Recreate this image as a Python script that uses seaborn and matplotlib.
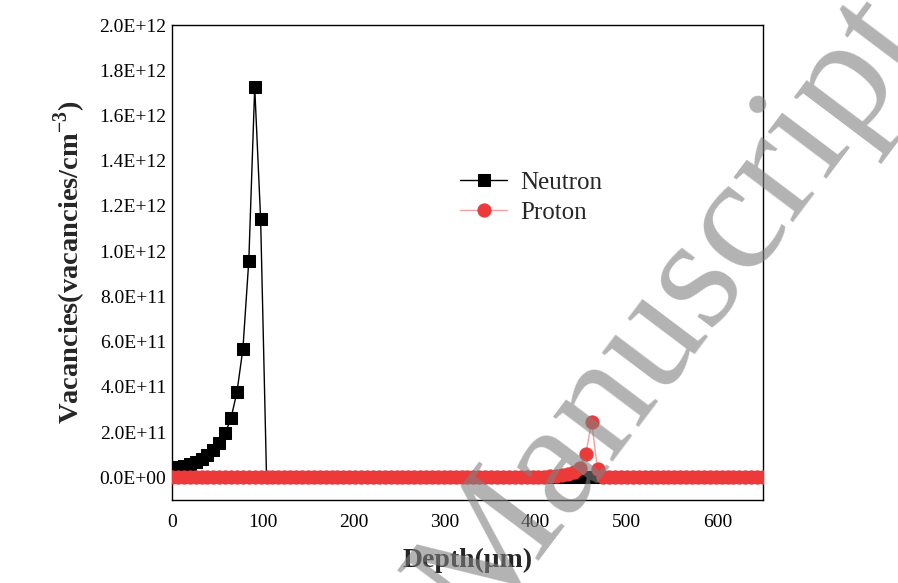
import matplotlib
matplotlib.use("Agg")
import matplotlib.pyplot as plt
from matplotlib.ticker import MultipleLocator, FuncFormatter
import seaborn as sns
import pandas as pd

# ---- data ----
depth = [
    0.0, 6.5, 13.0, 19.5, 26.0, 32.5, 39.0, 45.5, 52.0, 58.5,
    65.0, 71.5, 78.0, 84.5, 91.0, 97.5, 104.0, 110.5, 117.0, 123.5,
    130.0, 136.5, 143.0, 149.5, 156.0, 162.5, 169.0, 175.5, 182.0, 188.5,
    195.0, 201.5, 208.0, 214.5, 221.0, 227.5, 234.0, 240.5, 247.0, 253.5,
    260.0, 266.5, 273.0, 279.5, 286.0, 292.5, 299.0, 305.5, 312.0, 318.5,
    325.0, 331.5, 338.0, 344.5, 351.0, 357.5, 364.0, 370.5, 377.0, 383.5,
    390.0, 396.5, 403.0, 409.5, 416.0, 422.5, 429.0, 435.5, 442.0, 448.5,
    455.0, 461.5, 468.0, 474.5, 481.0, 487.5, 494.0, 500.5, 507.0, 513.5,
    520.0, 526.5, 533.0, 539.5, 546.0, 552.5, 559.0, 565.5, 572.0, 578.5,
    585.0, 591.5, 598.0, 604.5, 611.0, 617.5, 624.0, 630.5, 637.0, 643.5,
    650.0,
]

neutron = [
    0.043e12, 0.047e12, 0.052e12, 0.059e12, 0.068e12, 0.082e12, 0.100e12, 0.122e12, 0.152e12, 0.194e12,
    0.263e12, 0.378e12, 0.568e12, 0.958e12, 1.725e12, 1.143e12, 0.0, 0.0, 0.0, 0.0,
    0.0, 0.0, 0.0, 0.0, 0.0, 0.0, 0.0, 0.0, 0.0, 0.0,
    0.0, 0.0, 0.0, 0.0, 0.0, 0.0, 0.0, 0.0, 0.0, 0.0,
    0.0, 0.0, 0.0, 0.0, 0.0, 0.0, 0.0, 0.0, 0.0, 0.0,
    0.0, 0.0, 0.0, 0.0, 0.0, 0.0, 0.0, 0.0, 0.0, 0.0,
    0.0, 0.0, 0.0, 0.0, 0.0, 0.0, 0.0, 0.0, 0.0, 0.0,
    0.0, 0.0, 0.0, 0.0, 0.0, 0.0, 0.0, 0.0, 0.0, 0.0,
    0.0, 0.0, 0.0, 0.0, 0.0, 0.0, 0.0, 0.0, 0.0, 0.0,
    0.0, 0.0, 0.0, 0.0, 0.0, 0.0, 0.0, 0.0, 0.0, 0.0,
    0.0,
]

proton = [
    0.0, 0.0, 0.0, 0.0, 0.0, 0.0, 0.0, 0.0, 0.0, 0.0,
    0.0, 0.0, 0.0, 0.0, 0.0, 0.0, 0.0, 0.0, 0.0, 0.0,
    0.0, 0.0, 0.0, 0.0, 0.0, 0.0, 0.0, 0.0, 0.0, 0.0,
    0.0, 0.0, 0.0, 0.0, 0.0, 0.0, 0.0, 0.0, 0.0, 0.0,
    0.0, 0.0, 0.0, 0.0, 0.0, 0.0, 0.0, 0.0, 0.0, 0.0,
    0.0, 0.0, 0.0, 0.0, 0.0, 0.0, 0.0, 0.0, 0.0, 0.0,
    0.0, 0.0, 0.0, 0.002e12, 0.004e12, 0.006e12, 0.009e12, 0.014e12, 0.022e12, 0.042e12,
    0.102e12, 0.245e12, 0.035e12, 0.0, 0.0, 0.0, 0.0, 0.0, 0.0, 0.0,
    0.0, 0.0, 0.0, 0.0, 0.0, 0.0, 0.0, 0.0, 0.0, 0.0,
    0.0, 0.0, 0.0, 0.0, 0.0, 0.0, 0.0, 0.0, 0.0, 0.0,
    0.0,
]

series_names = ["Neutron", "Proton"]
x_ticks = [0, 100, 200, 300, 400, 500, 600]

df_n = pd.DataFrame({"Depth": depth, "Vacancies": neutron})
df_p = pd.DataFrame({"Depth": depth, "Vacancies": proton})

# ---- style ----
sns.set_style("white")
plt.rcParams["font.family"] = ["Liberation Serif", "DejaVu Serif"]
plt.rcParams["mathtext.fontset"] = "custom"
plt.rcParams["mathtext.rm"] = "Liberation Serif"
plt.rcParams["mathtext.bf"] = "Liberation Serif:bold"

fig = plt.figure(figsize=(8.98, 5.83), dpi=100)
ax = fig.add_axes([0.1915, 0.1424, 0.6582, 0.8146])

red = "#ec3a3a"
sns.lineplot(data=df_n, x="Depth", y="Vacancies", ax=ax, color="black",
             marker="s", markersize=9, markeredgecolor="black",
             markerfacecolor="black", linewidth=1.0, label=series_names[0],
             zorder=3)
sns.lineplot(data=df_p, x="Depth", y="Vacancies", ax=ax, color="#f2a0a0",
             marker="o", markersize=9.5, markeredgecolor=red,
             markerfacecolor=red, linewidth=1.0, label=series_names[1],
             zorder=4)

ax.set_xlim(0, 650)
ax.set_ylim(-0.1e12, 2.0e12)
ax.set_xticks(x_ticks)
ax.xaxis.set_minor_locator(MultipleLocator(50))
ax.yaxis.set_major_locator(MultipleLocator(0.2e12))
ax.yaxis.set_major_formatter(FuncFormatter(lambda v, p: "{:.1E}".format(v)))

ax.tick_params(axis="both", which="major", direction="in", length=5,
               width=1, labelsize=14, colors="black")
ax.tick_params(axis="x", which="minor", direction="in", length=3, width=1)
ax.tick_params(axis="x", which="major", pad=10)
ax.tick_params(axis="y", which="major", pad=4)
for s in ax.spines.values():
    s.set_color("black")
    s.set_linewidth(1.0)

ax.set_xlabel("Depth(μm)", fontsize=20, fontweight="bold", labelpad=12)
ax.set_ylabel("Vacancies(vacancies/cm$^{\\mathbf{-3}}$)", fontsize=20.5,
              fontweight="bold", labelpad=8)

leg = ax.legend(loc="upper left", bbox_to_anchor=(0.47, 0.713), frameon=False,
                fontsize=18, handlelength=1.9, handletextpad=0.5,
                labelspacing=0.3, borderaxespad=0)

# watermark
fig.text(0.748, 0.462, "Manuscript", fontsize=118, color="#808080",
         alpha=0.6, rotation=53, ha="center", va="center",
         rotation_mode="anchor", family="Liberation Serif", zorder=10)

fig.savefig("out.png", dpi=100)
